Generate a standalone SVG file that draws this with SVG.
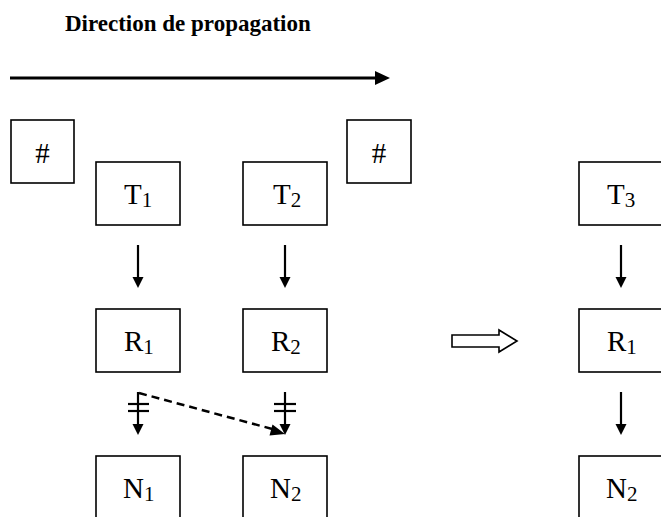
<svg xmlns="http://www.w3.org/2000/svg" width="661" height="517" viewBox="0 0 661 517">
<style>
.box{fill:#fff;stroke:#000;stroke-width:1.6}
.lbl{font-family:"Liberation Serif","Times New Roman",serif;font-size:29px;fill:#000}
.sub{font-size:21px}
.ln{stroke:#000;stroke-width:2.2;fill:none}
.hd{fill:#000}
</style>
<rect width="661" height="517" fill="#fff"/>
<text x="65" y="31" style="font-family:'Liberation Serif','Times New Roman',serif;font-size:23px;font-weight:bold">Direction de propagation</text>
<g id="top-arrow">
<line x1="10" y1="78" x2="376" y2="78" stroke="#000" stroke-width="3"/>
<polygon points="375,71 390,78 375,85" fill="#000"/>
</g>
<g id="hash1"><rect class="box" x="11" y="120" width="63" height="63"/><text class="lbl" x="42.5" y="163" text-anchor="middle">#</text></g>
<g id="hash2"><rect class="box" x="347" y="120" width="64" height="63"/><text class="lbl" x="379" y="163" text-anchor="middle">#</text></g>
<g id="T1"><rect class="box" x="96" y="162" width="84" height="63"/><text class="lbl" x="124" y="204">T<tspan class="sub" dy="3">1</tspan></text></g>
<g id="T2"><rect class="box" x="243" y="162" width="84" height="63"/><text class="lbl" x="273" y="204">T<tspan class="sub" dy="3">2</tspan></text></g>
<g id="T3"><rect class="box" x="579" y="162" width="84" height="63"/><text class="lbl" x="607" y="204">T<tspan class="sub" dy="3">3</tspan></text></g>
<g id="R1"><rect class="box" x="96" y="309" width="84" height="63"/><text class="lbl" x="124" y="351">R<tspan class="sub" dy="3">1</tspan></text></g>
<g id="R2"><rect class="box" x="243" y="309" width="84" height="63"/><text class="lbl" x="271" y="351">R<tspan class="sub" dy="3">2</tspan></text></g>
<g id="R1b"><rect class="box" x="579" y="309" width="84" height="63"/><text class="lbl" x="607" y="351">R<tspan class="sub" dy="3">1</tspan></text></g>
<g id="N1"><rect class="box" x="96" y="456" width="84" height="63"/><text class="lbl" x="123" y="498">N<tspan class="sub" dy="3">1</tspan></text></g>
<g id="N2"><rect class="box" x="243" y="456" width="84" height="63"/><text class="lbl" x="270" y="498">N<tspan class="sub" dy="3">2</tspan></text></g>
<g id="N2b"><rect class="box" x="579" y="456" width="84" height="63"/><text class="lbl" x="606" y="498">N<tspan class="sub" dy="3">2</tspan></text></g>
<g id="implies">
<path d="M452,335 L499,335 L499,330 L517,341 L499,352 L499,347 L452,347 Z" fill="#fff" stroke="#000" stroke-width="1.6"/>
</g>
<g id="connectors">
<line class="ln" x1="138" y1="245" x2="138" y2="280"/><polygon class="hd" points="132.5,277 143.5,277 138,288"/>
<line class="ln" x1="285" y1="245" x2="285" y2="280"/><polygon class="hd" points="279.5,277 290.5,277 285,288"/>
<line class="ln" x1="621" y1="245" x2="621" y2="280"/><polygon class="hd" points="615.5,277 626.5,277 621,288"/>
<line class="ln" x1="621" y1="392" x2="621" y2="427"/><polygon class="hd" points="615.5,424 626.5,424 621,435"/>
<line class="ln" x1="138" y1="392" x2="138" y2="427"/><polygon class="hd" points="132.5,424 143.5,424 138,435"/>
<line class="ln" x1="128" y1="404" x2="149" y2="404"/>
<line class="ln" x1="128" y1="411" x2="149" y2="411"/>
<line class="ln" x1="285" y1="392" x2="285" y2="427"/><polygon class="hd" points="279.5,424 290.5,424 285,435"/>
<line class="ln" x1="274" y1="404" x2="296" y2="404"/>
<line class="ln" x1="274" y1="411" x2="296" y2="411"/>
<line x1="139" y1="393" x2="276" y2="430" stroke="#000" stroke-width="2.5" stroke-dasharray="8,5"/>
<polygon class="hd" points="272.5,424.5 285,434 269.5,435.5"/>
</g>
</svg>
